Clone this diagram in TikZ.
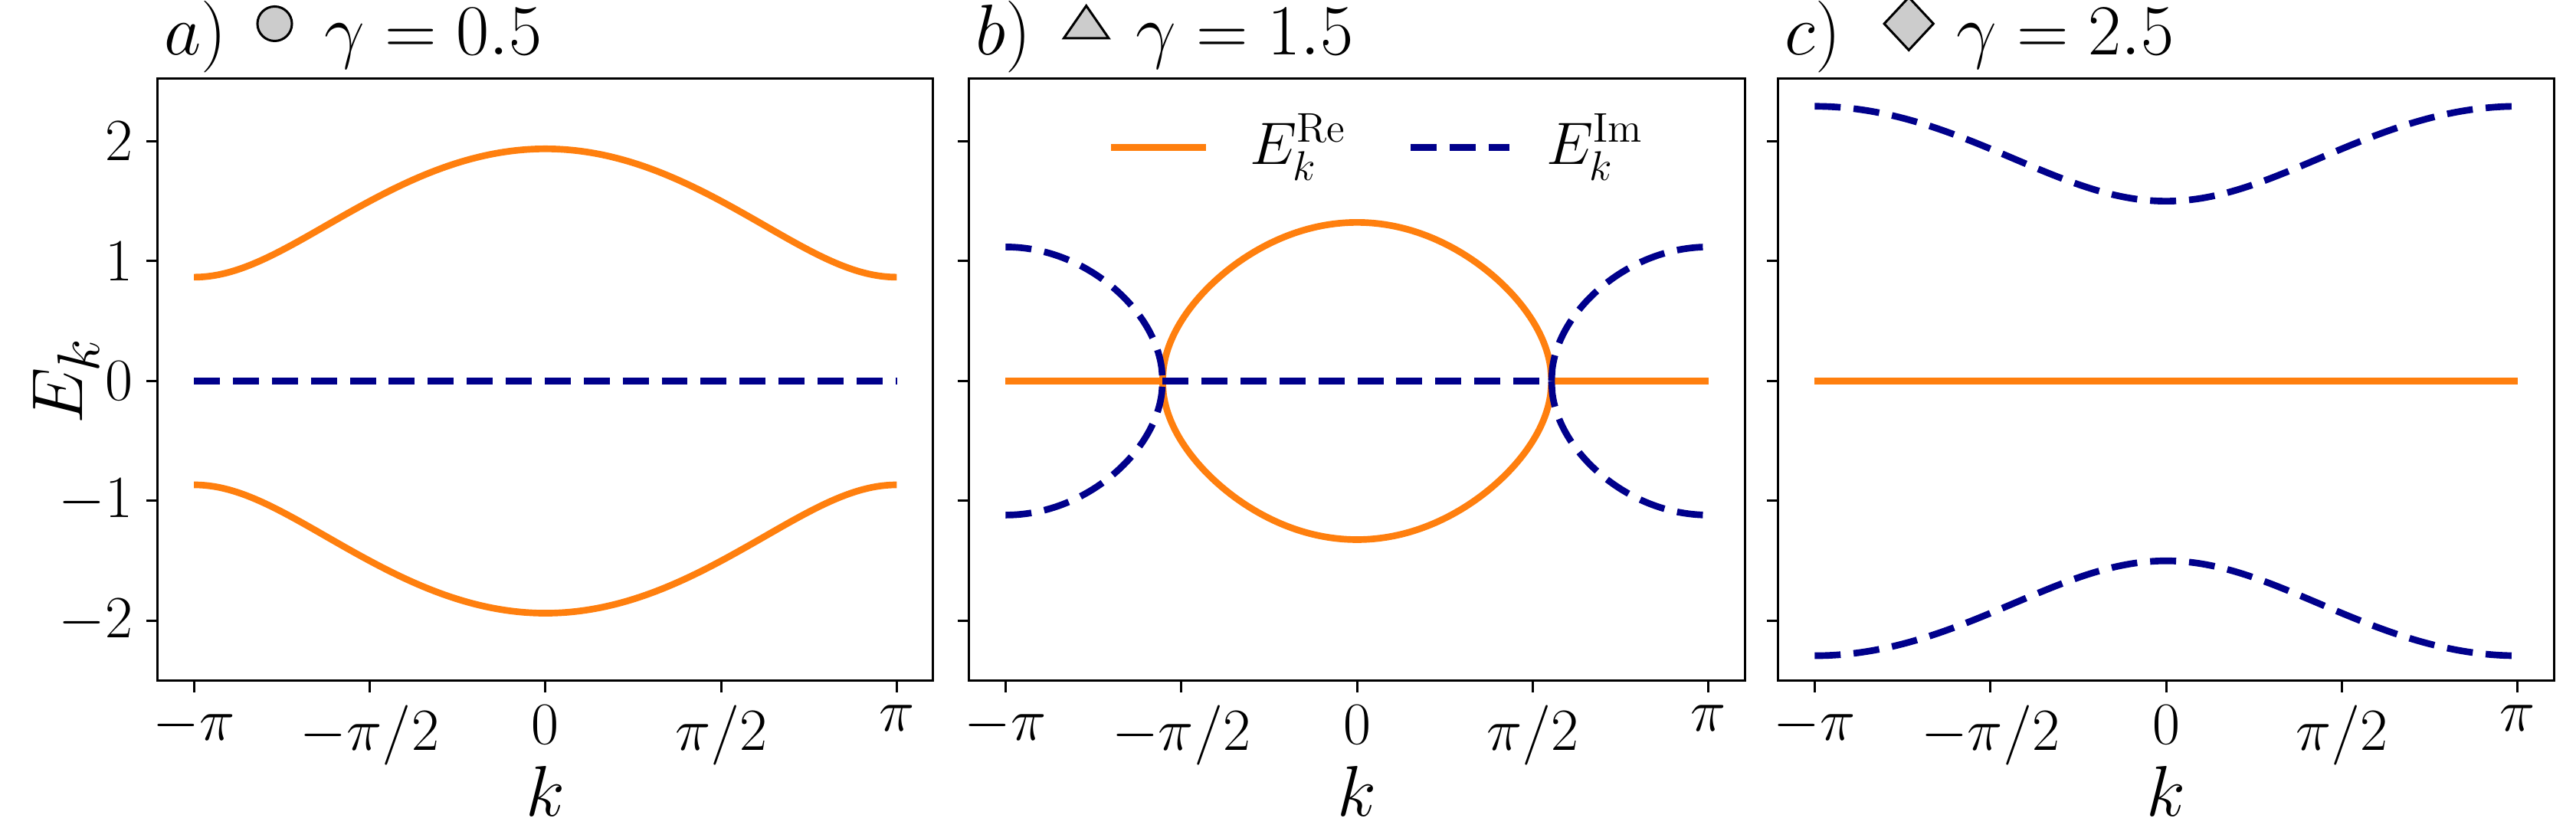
\documentclass[tikz,border=0pt]{standalone}
\usepackage{amsmath}
\definecolor{tor}{HTML}{FF7F0E}
\definecolor{nv}{HTML}{00008B}
\definecolor{mk}{HTML}{CCCCCC}
\tikzset{
 re/.style={tor,line width=2.3pt},
 im/.style={nv,line width=2.3pt,dash pattern=on 9pt off 4.5pt},
 tick/.style={line width=0.8pt},
 ticklab/.style={font=\fontsize{22}{26}\selectfont},
 ttl/.style={font=\fontsize{27}{32}\selectfont,anchor=base west,inner sep=0},
}
\newcommand{\panelbox}[1]{%
 \draw[line width=0.8pt] (-3.466,-2.5) rectangle (3.466,2.52);
 \foreach \xx/\lab in {-3.14159/{$-\pi$},-1.5708/{$-\pi/2$},0/{$0$},1.5708/{$\pi/2$},3.14159/{$\pi$}}{
   \draw[tick] (\xx,-2.5) -- ++(0,-0.1);
   \node[ticklab,anchor=north] at (\xx,-2.62) {\lab};}
 \foreach \yy in {-2,-1,0,1,2}{\draw[tick] (-3.466,\yy) -- ++(-0.1,0);}
 \node[font=\fontsize{28}{32}\selectfont] at (0,-3.42) {$k$};
}
\begin{document}
\begin{tikzpicture}[x=1cm,y=1cm]
\useasboundingbox (0,0) rectangle (31.36,10.08);
% panel a
\begin{scope}[shift={(6.64,5.44)},x=1.362cm,y=1.46cm]
 \panelbox{a}
 \foreach \yy/\lab in {-2/{$-2$},-1/{$-1$},0/{$0$},1/{$1$},2/{$2$}}{\node[ticklab,anchor=east] at (-3.60,\yy) {\lab};}
 \draw[re] plot[domain=-3.14159:3.14159,samples=150,smooth] (\x,{sqrt(2.25+1.5*cos(deg(\x)))});
 \draw[re] plot[domain=-3.14159:3.14159,samples=150,smooth] (\x,{-sqrt(2.25+1.5*cos(deg(\x)))});
 \draw[im] (-3.14159,0) -- (3.14159,0);
 \node[rotate=90,font=\fontsize{30}{34}\selectfont] at (-4.28,0) {$E_k$};
 \node[ttl] at (-3.41,2.72) {$a)$};
 \filldraw[fill=mk,draw=black,line width=0.8pt] (-2.42,2.98) circle (0.21cm);
 \node[ttl] at (-1.98,2.72) {$\gamma=0.5$};
\end{scope}
% panel b
\begin{scope}[shift={(16.52,5.44)},x=1.362cm,y=1.46cm]
 \panelbox{b}
 \draw[re] (-3.14159,0) -- (-1.7382,0);
 \draw[re] (1.7382,0) -- (3.14159,0);
 \draw[re] plot[domain=-1.7382:1.7382,samples=400] (\x,{sqrt(max(0,0.25+1.5*cos(deg(\x))))});
 \draw[re] plot[domain=-1.7382:1.7382,samples=400] (\x,{-sqrt(max(0,0.25+1.5*cos(deg(\x))))});
 \draw[im] (-1.7382,0) -- (1.7382,0);
 \foreach \s in {1,-1}{
  \draw[im] plot[domain=-3.14159:-1.7382,samples=200] (\x,{\s*sqrt(max(0,-0.25-1.5*cos(deg(\x))))});
  \draw[im] plot[domain=1.7382:3.14159,samples=200] (\x,{\s*sqrt(max(0,-0.25-1.5*cos(deg(\x))))});
 }
 % legend
 \draw[re] (-2.20,1.95) -- (-1.35,1.95);
 \node[anchor=west,font=\fontsize{21}{25}\selectfont] at (-1.05,1.95) {$E_k^{\mathrm{Re}}$};
 \draw[im] (0.48,1.95) -- (1.36,1.95);
 \node[anchor=west,font=\fontsize{21}{25}\selectfont] at (1.60,1.95) {$E_k^{\mathrm{Im}}$};
 \node[ttl] at (-3.41,2.72) {$b)$};
 \draw[fill=mk,draw=black,line width=0.8pt] (-2.42-0.2,2.86) -- (-2.42+0.2,2.86) -- (-2.42,3.13) -- cycle;
 \node[ttl] at (-1.98,2.72) {$\gamma=1.5$};
\end{scope}
% panel c
\begin{scope}[shift={(26.37,5.44)},x=1.362cm,y=1.46cm]
 \panelbox{c}
 \draw[re] (-3.14159,0) -- (3.14159,0);
 \draw[im] plot[domain=-3.14159:3.14159,samples=150,smooth] (\x,{sqrt(3.75-1.5*cos(deg(\x)))});
 \draw[im] plot[domain=-3.14159:3.14159,samples=150,smooth] (\x,{-sqrt(3.75-1.5*cos(deg(\x)))});
 \node[ttl] at (-3.41,2.72) {$c)$};
 \draw[fill=mk,draw=black,line width=0.8pt] (-2.30,2.76) -- (-2.08,2.98) -- (-2.30,3.20) -- (-2.52,2.98) -- cycle;
 \node[ttl] at (-1.88,2.72) {$\gamma=2.5$};
\end{scope}
\end{tikzpicture}
\end{document}
